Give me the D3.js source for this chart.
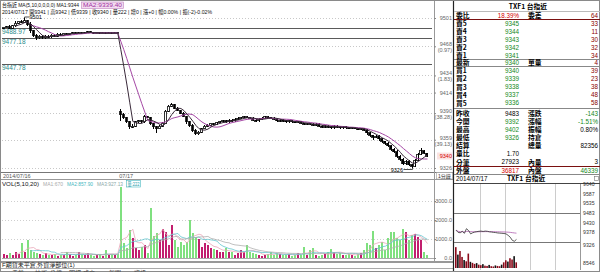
<!DOCTYPE html>
<html>
<head>
<meta charset="utf-8">
<script src="https://cdn.jsdelivr.net/npm/d3@7"></script>
<style>
  body { margin: 0; background: #fff; }
  svg { display: block; font-family: "Liberation Sans", "Noto Sans CJK TC", sans-serif; }
</style>
</head>
<body>
<div id="chart"></div>
<script>
// ---- values ----
// 2014/07/16 session (tail), 1 minute bars
const day1Open = 9489;
const day1Close = [9490, 9491, 9489, 9492, 9495, 9497, 9496, 9498, 9494, 9486,
  9481, 9478, 9480, 9478, 9480, 9479, 9481, 9480, 9482, 9481,
  9483, 9482, 9483, 9484, 9483, 9484, 9483, 9484, 9485, 9484,
  9483, 9484, 9483, 9484, 9483, 9484, 9483, 9484, 9483];
const day1UpWick = [1, 1, 2, 1, 2, 1, 2, 3, 1, 2, 1, 1, 1, 1, 1, 1, 1, 1, 1, 1,
  1, 1, 1, 1, 1, 1, 1, 1, 1, 1, 1, 1, 1, 1, 1, 1, 1, 1, 1];
const day1DnWick = [1, 1, 1, 1, 1, 1, 1, 1, 2, 3, 2, 3, 1, 2, 1, 1, 1, 1, 1, 1,
  1, 1, 1, 1, 1, 1, 1, 1, 1, 1, 1, 1, 1, 1, 1, 1, 1, 1, 1];
const day1Vol = [200, 150, 250, 180, 300, 200, 790, 300, 950, 420,
  300, 250, 200, 150, 250, 180, 150, 200, 120, 180,
  150, 320, 200, 100, 150, 320, 200, 150, 250, 180,
  120, 150, 200, 100, 420, 150, 200, 150, 200];

// 2014/07/17 session
const day2Open = 9392;
const day2Close = [9388, 9385, 9380, 9374, 9375, 9380, 9381, 9380, 9386, 9385,
  9378, 9374, 9372, 9375, 9378, 9392, 9398, 9400, 9396, 9393,
  9390, 9386, 9380, 9376, 9370, 9366, 9368, 9372, 9375, 9376,
  9378, 9377, 9379, 9380, 9381, 9380, 9382, 9381, 9383, 9384,
  9385, 9386, 9385, 9384, 9382, 9381, 9383, 9384, 9386, 9385,
  9384, 9383, 9381, 9382, 9381, 9380, 9381, 9380, 9379, 9380,
  9378, 9377, 9378, 9377, 9376, 9377, 9375, 9374, 9375, 9374,
  9373, 9375, 9374, 9373, 9374, 9373, 9372, 9373, 9372, 9371,
  9372, 9370, 9367, 9364, 9362, 9363, 9360, 9357, 9355, 9352,
  9348, 9345, 9340, 9336, 9331, 9334, 9330, 9328, 9335, 9342,
  9346, 9343, 9340];
const day2UpWick = [3, 2, 1, 1, 2, 1, 1, 1, 2, 1, 1, 1, 1, 1, 2, 2, 1, 2, 1, 1,
  1, 1, 1, 1, 1, 1, 1, 1, 1, 1, 1, 1, 1, 1, 1, 1, 1, 1, 1, 1,
  1, 1, 1, 1, 1, 1, 1, 1, 1, 1, 1, 1, 1, 1, 1, 1, 1, 1, 1, 1,
  1, 1, 1, 1, 1, 1, 1, 1, 1, 1, 1, 1, 1, 1, 1, 1, 1, 1, 1, 1,
  1, 1, 1, 1, 1, 1, 1, 1, 1, 1, 1, 1, 2, 1, 2, 1, 1, 1, 2, 2,
  3, 1, 1];
const day2DnWick = [7, 2, 2, 2, 1, 1, 1, 2, 1, 1, 2, 2, 5, 1, 1, 1, 1, 1, 1, 1,
  1, 1, 3, 2, 2, 1, 1, 1, 1, 1, 1, 1, 1, 1, 1, 1, 1, 1, 1, 1,
  1, 1, 1, 1, 1, 1, 1, 1, 1, 1, 1, 1, 1, 1, 1, 1, 1, 1, 1, 1,
  1, 1, 1, 1, 1, 1, 1, 1, 1, 1, 1, 1, 1, 1, 1, 1, 1, 1, 1, 1,
  1, 1, 2, 2, 3, 1, 2, 2, 2, 2, 2, 2, 2, 2, 2, 2, 2, 2, 1, 1,
  1, 1, 1];
const day2Vol = [3740, 790, 530, 1470, 1050, 530, 420, 580, 680, 260,
  2630, 1160, 1320, 950, 1530, 1370, 680, 1740, 950, 580,
  840, 680, 840, 2000, 1320, 1110, 1000, 580, 790, 680,
  530, 470, 420, 320, 320, 530, 320, 320, 160, 260,
  420, 320, 680, 320, 250, 210, 160, 120, 150, 220,
  300, 160, 250, 200, 150, 180, 220, 120, 140, 250,
  180, 580, 150, 420, 530, 180, 100, 150, 200, 300,
  470, 320, 200, 250, 150, 180, 220, 150, 120, 200,
  250, 420, 790, 680, 1420, 530, 680, 840, 420, 1050,
  1370, 1370, 1050, 950, 1530, 1370, 950, 1210, 1260, 1100,
  950, 320, 160];

const refLevels = [9488.97, 9477.18, 9447.78];
const priceTicks = [9501, 9468, 9434, 9414, 9390, 9359, 9326];
const priceTickPct = ["", "(0.97)", "(1.83)", "", "(38.28)", "(39.13)", ""];
const volTicks = [0, 1000, 2000, 3000];
const lastPrice = 9340;

// quote table
const askLabels = ["賣5", "賣4", "賣3", "賣2", "賣1"];
const askPrices = [9345, 9344, 9343, 9342, 9341];
const askQty = [33, 11, 30, 32, 34];
const bidLabels = ["買1", "買2", "買3", "買4", "買5"];
const bidPrices = [9340, 9339, 9338, 9337, 9336];
const bidQty = [39, 23, 38, 48, 58];
const statLabelsL = ["昨收", "今開", "最高", "最低", "結算", "量比", "分筆"];
const statValuesL = ["9483", "9392", "9402", "9326", "", "1.70", "27923"];
const statLabelsR = ["漲跌", "漲幅", "振幅", "持倉", "總量", "", "內量"];
const statValuesR = ["-143", "-1.51%", "0.80%", "", "82356", "", "3"];

// mini intraday chart, 5 minute points
const miniTicks = [9640, 9587, 9535, 9483, 9430, 9378, 9326];
const miniPrice = [9390, 9378, 9376, 9384, 9373, 9398, 9388, 9370, 9376, 9380,
  9382, 9384, 9385, 9383, 9385, 9384, 9381, 9380, 9378, 9377,
  9375, 9374, 9373, 9372, 9370, 9362, 9352, 9335, 9330, 9340];
const miniVol = [8100, 5200, 6600, 4300, 3100, 2600, 5600, 2400, 2000, 1600,
  1900, 1300, 1100, 1500, 900, 800, 1200, 700, 600, 1000,
  800, 700, 1300, 2200, 3000, 2500, 3800, 3300, 4600, 2200];
const miniHours = ["09", "10", "11", "12", "13"];

// ---- build ----
const W = 600, H = 272;
const green = "#12891a", red = "#d40000", dark = "#8a0000";

function buildSession(open0, closes, up, dn, vols, start) {
  return closes.map((c, i) => {
    const o = i === 0 ? open0 : closes[i - 1];
    return { i: start + i, o: o, c: c, h: Math.max(o, c) + up[i], l: Math.min(o, c) - dn[i], v: vols[i] };
  });
}
const bars = buildSession(day1Open, day1Close, day1UpWick, day1DnWick, day1Vol, 0)
  .concat(buildSession(day2Open, day2Close, day2UpWick, day2DnWick, day2Vol, day1Close.length));

function movAvg(key, n) {
  return bars.map((b, i) => [b.i, i < n - 1 ? null : d3.mean(bars.slice(i - n + 1, i + 1), d => d[key])]);
}

const svg = d3.select("#chart").append("svg")
  .attr("width", W).attr("height", H)
  .attr("viewBox", `0 0 ${W} ${H}`);

svg.append("rect").attr("width", W).attr("height", H).attr("fill", "#fff");

const x = d3.scaleBand().domain(d3.range(143)).range([2, 432]);
const bw = x.bandwidth();
const cx = i => x(i) + bw / 2;
const y = d3.scaleLinear().domain([9326, 9501]).range([168, 18]);
const yv = d3.scaleLinear().domain([0, 3000]).range([258, 201]);

const defs = svg.append("defs");
defs.append("clipPath").attr("id", "pclip").append("rect").attr("x", 2).attr("y", 2).attr("width", 431).attr("height", 170);
defs.append("clipPath").attr("id", "vclip").append("rect").attr("x", 2).attr("y", 186).attr("width", 431).attr("height", 74);

// frames
const frame = svg.append("g").attr("shape-rendering", "crispEdges");
frame.append("rect").attr("x", 0.5).attr("y", 0.5).attr("width", W - 1).attr("height", H - 1)
  .attr("fill", "none").attr("stroke", "#8a8a8a");
frame.append("line").attr("x1", 1).attr("x2", 453).attr("y1", 172.5).attr("y2", 172.5).attr("stroke", "#777");
frame.append("line").attr("x1", 1).attr("x2", 453).attr("y1", 179.5).attr("y2", 179.5).attr("stroke", "#999");
frame.append("line").attr("x1", 1).attr("x2", 453).attr("y1", 261.5).attr("y2", 261.5).attr("stroke", "#999").attr("stroke-width", 2);
frame.append("line").attr("x1", 1).attr("x2", 453).attr("y1", 268.5).attr("y2", 268.5).attr("stroke", "#aaa");
frame.append("line").attr("x1", 434.5).attr("x2", 434.5).attr("y1", 1).attr("y2", 261).attr("stroke", "#999");

// ---- price panel ----
const grid = svg.append("g").attr("shape-rendering", "crispEdges");
grid.selectAll("line").data(priceTicks).enter().append("line")
  .attr("x1", 2).attr("x2", 434)
  .attr("y1", d => Math.round(y(d)) + 0.5).attr("y2", d => Math.round(y(d)) + 0.5)
  .attr("stroke", "#c8c8c8").attr("stroke-dasharray", "1,2");

const refs = svg.append("g");
refs.selectAll("line").data(refLevels).enter().append("line")
  .attr("x1", 2).attr("x2", 432)
  .attr("y1", d => Math.round(y(d)) + 0.5).attr("y2", d => Math.round(y(d)) + 0.5)
  .attr("stroke", "#5a5a5a").attr("shape-rendering", "crispEdges");
refs.selectAll("text").data(refLevels).enter().append("text")
  .attr("x", 2).attr("y", d => y(d) + 6)
  .attr("font-size", 6.5).attr("fill", "#2a8a8a")
  .text(d => d.toFixed(2));

const plot = svg.append("g").attr("clip-path", "url(#pclip)");
const candle = plot.selectAll("g.c").data(bars).enter().append("g").attr("class", "c")
  .attr("shape-rendering", "crispEdges");
candle.append("line")
  .attr("x1", d => Math.floor(cx(d.i)) + 0.5).attr("x2", d => Math.floor(cx(d.i)) + 0.5)
  .attr("y1", d => y(d.h)).attr("y2", d => y(d.l))
  .attr("stroke", "#000");
candle.append("rect")
  .attr("x", d => Math.floor(x(d.i)) + 0.5)
  .attr("y", d => y(Math.max(d.o, d.c)))
  .attr("width", Math.max(1, bw - 1.5))
  .attr("height", d => Math.max(1, Math.abs(y(d.o) - y(d.c))))
  .attr("fill", d => d.c > d.o ? "#fff" : "#000")
  .attr("stroke", "#000").attr("stroke-width", 0.8);

const maLine = d3.line().defined(d => d[1] != null).x(d => cx(d[0])).y(d => y(d[1]));
plot.append("path").datum(movAvg("c", 10)).attr("d", maLine)
  .attr("fill", "none").attr("stroke", "#a548a5").attr("stroke-width", 1);
plot.append("path").datum(movAvg("c", 5)).attr("d", maLine)
  .attr("fill", "none").attr("stroke", "#3a2a3a").attr("stroke-width", 1);

// high / low marks
const hi = bars.reduce((a, b) => b.h > a.h ? b : a);
const lo = bars.reduce((a, b) => b.l < a.l ? b : a);
plot.append("path")
  .attr("d", `M${cx(hi.i)},${y(hi.h)}V${y(hi.h) - 1}H${cx(hi.i) + 5}`)
  .attr("fill", "none").attr("stroke", "#000").attr("stroke-width", 0.7);
plot.append("text").attr("x", cx(hi.i) + 5).attr("y", y(hi.h) + 1)
  .attr("font-size", 5.5).attr("fill", "#000").text(hi.h);
plot.append("path")
  .attr("d", `M${cx(lo.i)},${y(lo.l)}V${y(lo.l) + 1.5}H${cx(lo.i) - 9}`)
  .attr("fill", "none").attr("stroke", "#000").attr("stroke-width", 0.7);
plot.append("text").attr("x", cx(lo.i) - 9.5).attr("y", y(lo.l) + 3.5)
  .attr("text-anchor", "end").attr("font-size", 5.5).attr("fill", "#000").text(lo.l);

// header texts
const head = svg.append("g").attr("font-size", 5.8);
head.append("text").attr("x", 2).attr("y", 7).attr("fill", "#111")
  .attr("textLength", 77).attr("lengthAdjust", "spacingAndGlyphs")
  .text("台指近 MA(5,10,0,0,0,0) MA1:9344");
head.append("rect").attr("x", 81.5).attr("y", 2).attr("width", 42).attr("height", 6.5)
  .attr("fill", "#f3dcf0").attr("stroke", "#c080c0").attr("stroke-width", 0.6);
head.append("text").attr("x", 83).attr("y", 7).attr("fill", "#a030a0")
  .attr("textLength", 39).attr("lengthAdjust", "spacingAndGlyphs").text("MA2:9339.40");
head.append("text").attr("x", 2).attr("y", 14).attr("fill", "#111")
  .attr("textLength", 210).attr("lengthAdjust", "spacingAndGlyphs")
  .text("2014/07/17 開9341 | 高9342 | 低9339 | 收9340 | 量222 | 增0 | 漲+0 | 幅0.00% | 振(-2)-0.02%");

// right price axis
const yAxis = svg.append("g").attr("transform", "translate(434,0)")
  .call(d3.axisRight(y).tickValues(priceTicks).tickSize(2).tickFormat(d3.format("d")));
yAxis.select(".domain").remove();
yAxis.selectAll(".tick line").attr("stroke", "#888");
yAxis.selectAll(".tick text")
  .attr("x", 18).attr("text-anchor", "end").attr("font-size", 5.5).attr("fill", "#666")
  .attr("font-family", "Liberation Sans")
  .attr("dy", (d, i) => priceTickPct[i] ? "-0.1em" : "0.32em");
svg.append("g").selectAll("text").data(priceTicks.filter((d, i) => priceTickPct[i])).enter()
  .append("text")
  .attr("x", 452).attr("y", d => y(d) + 6).attr("text-anchor", "end")
  .attr("font-size", 5.5).attr("fill", "#666")
  .text(d => priceTickPct[priceTicks.indexOf(d)]);
svg.append("rect").attr("x", 437).attr("y", y(lastPrice) - 3.5).attr("width", 15).attr("height", 7)
  .attr("fill", "#fbe3e3");
svg.append("text").attr("x", 452).attr("y", y(lastPrice) + 2).attr("text-anchor", "end")
  .attr("font-size", 5.5).attr("fill", red).text(lastPrice);

// date row
const dates = svg.append("g").attr("font-size", 5.5).attr("fill", "#555");
dates.append("text").attr("x", 3).attr("y", 178).text("2014/07/16");
dates.append("text").attr("x", x(day1Close.length)).attr("y", 178).text("07/17");
svg.append("rect").attr("x", 436.5).attr("y", 172.5).attr("width", 16).attr("height", 6.5)
  .attr("fill", "#fff").attr("stroke", "#999").attr("stroke-width", 0.6);
svg.append("text").attr("x", 438).attr("y", 178).attr("font-size", 5).attr("fill", "#333").text("1分鐘");

// ---- volume panel ----
svg.append("g").attr("shape-rendering", "crispEdges").selectAll("line")
  .data(volTicks).enter().append("line")
  .attr("x1", 2).attr("x2", 434)
  .attr("y1", d => Math.round(yv(d)) + 0.5).attr("y2", d => Math.round(yv(d)) + 0.5)
  .attr("stroke", d => d === 0 ? "#aaa" : "#cfcfcf").attr("stroke-dasharray", d => d === 0 ? null : "1,2");

const vplot = svg.append("g").attr("clip-path", "url(#vclip)");
vplot.selectAll("rect").data(bars).enter().append("rect")
  .attr("shape-rendering", "crispEdges")
  .attr("x", d => Math.floor(x(d.i)) + 0.5)
  .attr("y", d => yv(d.v))
  .attr("width", Math.max(1, bw - 1))
  .attr("height", d => yv(0) - yv(d.v))
  .attr("fill", d => d.c > d.o ? "#c21e6e" : d.c < d.o ? "#7fe07f" : "#111");
const vLine = d3.line().defined(d => d[1] != null).x(d => cx(d[0])).y(d => yv(d[1]));
[[5, "#e9a6b8"], [10, "#62c6cf"], [20, "#b0b0b0"]].forEach(([n, col]) => {
  vplot.append("path").datum(movAvg("v", n)).attr("d", vLine)
    .attr("fill", "none").attr("stroke", col).attr("stroke-width", 0.8);
});

const vAxis = svg.append("g").attr("transform", "translate(434,0)")
  .call(d3.axisRight(yv).tickValues(volTicks).tickSize(2).tickFormat(d3.format(".1f")));
vAxis.select(".domain").remove();
vAxis.selectAll(".tick line").attr("stroke", "#888");
vAxis.selectAll(".tick text").attr("x", 18).attr("text-anchor", "end")
  .attr("font-size", 5.5).attr("fill", "#666");

const vhead = svg.append("g").attr("font-size", 5.2);
const vh = (tx, len, col, t) => vhead.append("text").attr("x", tx).attr("y", 185.5).attr("fill", col)
  .attr("textLength", len).attr("lengthAdjust", "spacingAndGlyphs").text(t);
vh(2, 37, "#111", "VOL(5,10,20)");
vh(43, 20, "#aaa", "MA1:670");
vh(67, 26, "#46b8c0", "MA2:857.90");
vh(97, 26, "#8aa8a8", "MA3:927.13");
vhead.append("rect").attr("x", 126.5).attr("y", 180.5).attr("width", 14).attr("height", 6.5)
  .attr("fill", "none").attr("stroke", "#46b8c0").attr("stroke-width", 0.6);
vh(127.5, 12, "#2aa0aa", "量:222");

// bottom strip
svg.append("text").attr("x", 2).attr("y", 267).attr("font-size", 6).attr("fill", "#222")
  .text("F期貨未平倉,外資淨部位(1)");
const tabs = svg.append("g").attr("font-size", 6).attr("fill", "#444");
[["走勢", 12], ["技術", 35], ["分價", 50], ["明細", 69], ["成交", 83], ["新聞", 109], ["資訊", 134]]
  .forEach(([t, tx]) => tabs.append("text").attr("x", tx).attr("y", 275).text(t));

// ---- quote table ----
const tb = svg.append("g");
tb.append("rect").attr("x", 453).attr("y", 1).attr("width", 146).attr("height", 182).attr("fill", "#fff");
tb.append("line").attr("x1", 453.5).attr("x2", 453.5).attr("y1", 1).attr("y2", 271)
  .attr("stroke", "#222").attr("stroke-width", 1.2);
const hl = (yy, col, sw) => tb.append("line").attr("x1", 454).attr("x2", 600)
  .attr("y1", yy).attr("y2", yy).attr("stroke", col).attr("stroke-width", sw || 1)
  .attr("shape-rendering", "crispEdges");
hl(11.5, "#bbb"); hl(19.5, "#7a1010", 1.5); hl(59.5, "#888"); hl(66.5, "#888");
hl(108.5, "#888"); hl(166.5, "#7a1010", 1.5); hl(174.5, "#888"); hl(183, "#444");

const lab = (xx, yy, t) => tb.append("text").attr("x", xx).attr("y", yy).attr("dy", "0.36em")
  .attr("font-family", "Noto Sans CJK TC").attr("font-weight", "bold").attr("font-size", 6.8)
  .attr("fill", "#000").text(t);
const num = (xx, yy, t, col) => tb.append("text").attr("x", xx).attr("y", yy).attr("dy", "0.36em")
  .attr("text-anchor", "end").attr("font-size", 6.3).attr("fill", col).text(t);

tb.append("text").attr("x", 528).attr("y", 6.3).attr("dy", "0.36em").attr("text-anchor", "middle")
  .attr("font-family", "Noto Sans CJK TC").attr("font-weight", "bold").attr("font-size", 6.8)
  .text("TXF1  台指近");
lab(456, 15.7, "委比"); num(519, 15.7, "18.39%", red); lab(528, 15.7, "委差"); num(598, 15.7, "64", dark);
askLabels.forEach((t, j) => {
  const yy = 23.8 + 7.9 * j;
  lab(456, yy, t); num(519, yy, askPrices[j], green); num(598, yy, askQty[j], dark);
});
lab(456, 62.8, "最新"); num(519, 62.8, lastPrice, green); lab(528, 62.8, "單量"); num(598, 62.8, "4", dark);
bidLabels.forEach((t, j) => {
  const yy = 71 + 8.05 * j;
  lab(456, yy, t); num(519, yy, bidPrices[j], green); num(598, yy, bidQty[j], dark);
});
const statColL = ["#000", green, green, green, "#000", "#000", "#000"];
const statColR = [green, green, "#000", "#000", "#000", "#000", "#000"];
statLabelsL.forEach((t, j) => {
  const yy = 113.3 + 8.15 * j;
  lab(456, yy, t); num(519, yy, statValuesL[j], statColL[j]);
  if (statLabelsR[j]) lab(528, yy, statLabelsR[j]);
  num(598, yy, statValuesR[j], statColR[j]);
});
lab(456, 170.7, "外盤"); num(519, 170.7, "36817", red); lab(528, 170.7, "內盤"); num(598, 170.7, "46339", green);
tb.append("text").attr("x", 456).attr("y", 179).attr("dy", "0.36em").attr("font-size", 6.3).text("2014/07/17");
lab(507, 179, "TXF1 台指近");
tb.append("rect").attr("x", 594.5).attr("y", 176.5).attr("width", 4).attr("height", 4)
  .attr("fill", "none").attr("stroke", "#777").attr("stroke-width", 0.6);

// ---- mini intraday chart ----
const mx = d3.scaleLinear().domain([0, 300]).range([455, 580]);
const my = d3.scaleLinear().domain([9326, 9640]).range([242, 184]);
const mv = d3.scaleLinear().domain([0, 8546]).range([268, 246]);
const mini = svg.append("g");
mini.selectAll("line.v").data(d3.range(60, 301, 60)).enter().append("line")
  .attr("x1", d => Math.round(mx(d)) + 0.5).attr("x2", d => Math.round(mx(d)) + 0.5)
  .attr("y1", 184).attr("y2", 270).attr("stroke", d => d === 300 ? "#999" : "#ccc")
  .attr("shape-rendering", "crispEdges");
mini.selectAll("line.h").data([9483, 9326]).enter().append("line")
  .attr("x1", 454).attr("x2", 580)
  .attr("y1", d => Math.round(my(d)) + 0.5).attr("y2", d => Math.round(my(d)) + 0.5)
  .attr("stroke", "#777").attr("shape-rendering", "crispEdges");
mini.selectAll("text.t").data(miniTicks).enter().append("text")
  .attr("x", 583).attr("y", d => my(d) + (d === 9326 ? 4.5 : 2))
  .attr("font-size", 5.2).attr("fill", "#333").text(d => d);
mini.append("text").attr("x", 583).attr("y", 265).attr("font-size", 5.2).attr("fill", "#333").text("8546");
mini.selectAll("rect").data(miniVol).enter().append("rect")
  .attr("x", (d, k) => mx(5 * k)).attr("y", d => mv(d))
  .attr("width", 1.6).attr("height", d => mv(0) - mv(d))
  .attr("fill", (d, k) => k % 3 === 1 ? "#111" : "#8a0a1a");
const avg = miniPrice.map((p, k) => d3.mean(miniPrice.slice(0, k + 1)));
const mLine = d3.line().x((d, k) => mx(5 * k + 2.5)).y(d => my(d));
mini.append("path").datum(avg).attr("d", mLine).attr("fill", "none").attr("stroke", "#b060b0").attr("stroke-width", 0.8);
mini.append("path").datum(miniPrice).attr("d", mLine).attr("fill", "none").attr("stroke", "#333").attr("stroke-width", 0.8);
mini.selectAll("text.h").data(miniHours).enter().append("text")
  .attr("x", (d, k) => mx(60 * k + 15)).attr("y", 275.5)
  .attr("font-size", 6).attr("fill", "#444").text(d => d);
</script>
</body>
</html>
